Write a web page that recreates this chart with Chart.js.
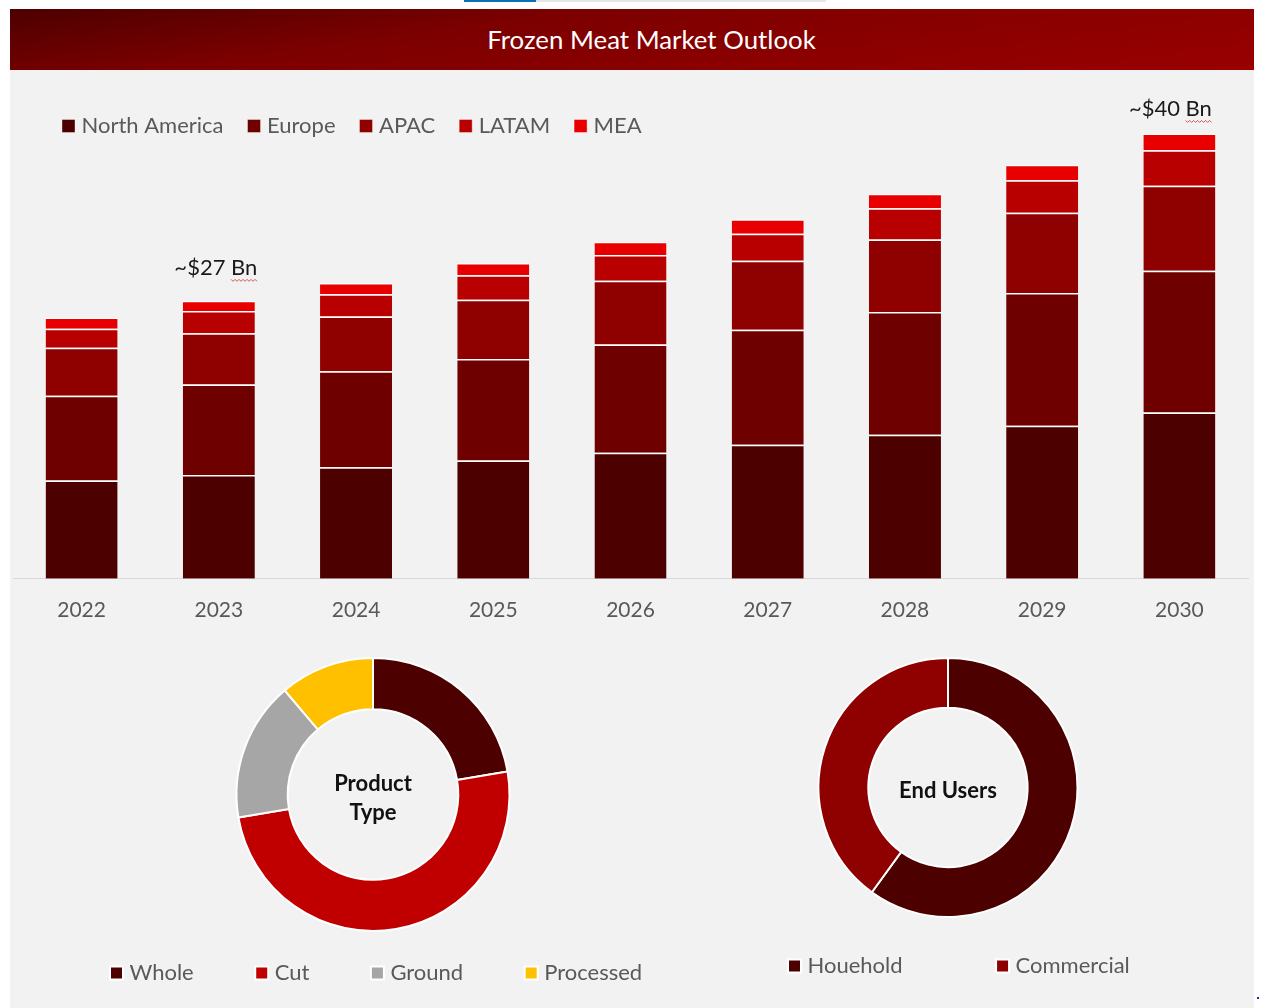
<!DOCTYPE html>
<html>
<head>
<meta charset="utf-8">
<title>Frozen Meat Market Outlook</title>
<script src="https://cdn.jsdelivr.net/npm/chart.js@4"></script>
<style>
  html, body { margin: 0; padding: 0; background: #fff; }
  body { width: 1261px; height: 1008px; position: relative; overflow: hidden; font-family: Lato, sans-serif; }
  #strip-a { position: absolute; left: 464px; top: 0; width: 72px; height: 2px; background: #0b6fb8; }
  #strip-b { position: absolute; left: 536px; top: 0; width: 290px; height: 2px; background: #e6e6e6; }
  #panel { position: absolute; left: 10px; top: 70px; width: 1244px; height: 938px; background: #f2f2f2; }
  #header {
    position: absolute; left: 10px; top: 9px; width: 1244px; height: 61px; line-height: 61px;
    background: linear-gradient(172deg, #4d0000 0%, #7c0000 35%, #8a0000 65%, #9a0000 100%);
    color: #fff; font-size: 25.8px; text-align: center; text-indent: 39px;
  }
  #dot { position: absolute; left: 1257px; top: 997px; width: 2px; height: 2px; background: #2222cc; }
  canvas { position: absolute; display: block; }
  #bars { left: 10px; top: 72px; }
  #product { left: 0; top: 640px; }
  #users { left: 635px; top: 640px; }
</style>
</head>
<body>
<div id="strip-a"></div>
<div id="strip-b"></div>
<div id="panel"></div>
<div id="header">Frozen Meat Market Outlook</div>
<canvas id="bars" width="1244" height="570"></canvas>
<canvas id="product" width="746" height="360"></canvas>
<canvas id="users" width="626" height="360"></canvas>
<div id="dot"></div>
<script>
const years = ['2022', '2023', '2024', '2025', '2026', '2027', '2028', '2029', '2030'];
const northAmerica = [8.8, 9.3, 10.0, 10.6, 11.3, 12.0, 12.9, 13.7, 14.9];
const europe = [7.6, 8.1, 8.6, 9.1, 9.7, 10.3, 11.0, 11.9, 12.7];
const apac = [4.3, 4.6, 4.9, 5.3, 5.7, 6.2, 6.5, 7.2, 7.6];
const latam = [1.7, 2.0, 2.0, 2.2, 2.3, 2.4, 2.8, 2.9, 3.2];
const mea = [1.0, 0.9, 1.0, 1.1, 1.2, 1.3, 1.3, 1.4, 1.5];
const barNotes = [null, '~$27 Bn', null, null, null, null, null, null, '~$40 Bn'];

const productLabels = ['Whole', 'Cut', 'Ground', 'Processed'];
const productValues = [22.3, 50, 16.5, 11.2];
const userLabels = ['Houehold', 'Commercial'];
const userValues = [60, 40];

const FONT = 'Lato';
const TEXT_GREY = '#595959';

// legend lives in the chart area (no layout room) but lays out as a row,
// then gets drawn at a fixed spot
const legendSpot = {
  id: 'legendSpot',
  beforeLayout(chart) {
    chart.legend.isHorizontal = () => true;
  },
  beforeDraw(chart, args, opts) {
    const legend = chart.legend;
    legend.left = opts.left;
    legend.top = opts.top;
    legend.right = chart.width;
    legend.bottom = chart.height;
  }
};

// "~$xx Bn" notes with the red squiggle under Bn
const barNotesPlugin = {
  id: 'barNotes',
  afterDatasetsDraw(chart, args, opts) {
    const ctx = chart.ctx;
    const xs = chart.scales.x;
    const ys = chart.scales.y;
    ctx.save();
    ctx.font = '22px ' + FONT;
    ctx.fillStyle = '#1a1a1a';
    ctx.textAlign = 'center';
    ctx.textBaseline = 'middle';
    barNotes.forEach((note, i) => {
      if (!note) return;
      let total = 0;
      chart.data.datasets.forEach(d => { total += d.data[i]; });
      const x = xs.getPixelForValue(i) + opts.dx[i];
      const y = ys.getPixelForValue(total) - opts.dy[i];
      ctx.fillText(note, x, y);
      const w = ctx.measureText(note).width;
      const bn = ctx.measureText('Bn').width;
      ctx.strokeStyle = '#d9534f';
      ctx.lineWidth = 1;
      ctx.beginPath();
      const right = x + w / 2;
      for (let p = 0; p <= bn; p += 2) {
        const sx = right - bn + p;
        const sy = y + 11 + (p % 4 === 0 ? 0 : 2);
        if (p === 0) ctx.moveTo(sx, sy); else ctx.lineTo(sx, sy);
      }
      ctx.stroke();
    });
    ctx.restore();
  }
};

const centerText = {
  id: 'centerText',
  afterDraw(chart, args, opts) {
    const ctx = chart.ctx;
    const arc = chart.getDatasetMeta(0).data[0];
    ctx.save();
    ctx.font = 'bold 22px ' + FONT;
    ctx.fillStyle = '#111';
    ctx.textAlign = 'center';
    ctx.textBaseline = 'middle';
    const lh = 29;
    const start = arc.y - (opts.lines.length - 1) * lh / 2 + opts.dy;
    opts.lines.forEach((line, i) => ctx.fillText(line, arc.x, start + i * lh));
    ctx.restore();
  }
};

function legendOptions(padding) {
  return {
    position: 'chartArea',
    align: 'start',
    labels: {
      color: TEXT_GREY,
      font: { family: FONT, size: 22 },
      usePointStyle: true,
      pointStyle: 'rect',
      boxWidth: 4,
      boxHeight: 13,
      padding: padding
    }
  };
}

function makeSeries(label, data, color) {
  return {
    label: label,
    data: data,
    backgroundColor: color,
    borderColor: '#ffffff',
    borderWidth: { top: 1.5 },
    borderSkipped: false,
    categoryPercentage: 1,
    barPercentage: 0.525
  };
}

new Chart(document.getElementById('bars'), {
  type: 'bar',
  data: {
    labels: years,
    datasets: [
      makeSeries('North America', northAmerica, '#4d0000'),
      makeSeries('Europe', europe, '#6e0000'),
      makeSeries('APAC', apac, '#8f0000'),
      makeSeries('LATAM', latam, '#b80000'),
      makeSeries('MEA', mea, '#e80000')
    ]
  },
  options: {
    responsive: false,
    animation: false,
    layout: { padding: { left: 3, right: 6, top: 0, bottom: 0 } },
    scales: {
      x: {
        stacked: true,
        grid: { display: false, drawTicks: false },
        border: { color: '#d9d9d9', width: 1 },
        ticks: { color: TEXT_GREY, font: { family: FONT, size: 21 }, padding: 19, maxRotation: 0 }
      },
      y: { stacked: true, display: false, min: 0, max: 45.4 }
    },
    plugins: {
      legend: legendOptions(28.5),
      legendSpot: { left: 28, top: 14.5 },
      barNotes: { dx: { 1: -3, 8: -9 }, dy: { 1: 32.5, 8: 24 } },
      tooltip: { enabled: false }
    }
  },
  plugins: [legendSpot, barNotesPlugin]
});

new Chart(document.getElementById('product'), {
  type: 'doughnut',
  data: {
    labels: productLabels,
    datasets: [{
      data: productValues,
      backgroundColor: ['#4d0000', '#c00000', '#a6a6a6', '#ffc000'],
      borderColor: '#ffffff',
      borderWidth: 2
    }]
  },
  options: {
    responsive: false,
    animation: false,
    cutout: '62.5%',
    layout: { padding: { top: 17, bottom: 68 } },
    plugins: {
      legend: legendOptions(66),
      legendSpot: { left: 48.5, top: 256 },
      centerText: { lines: ['Product', 'Type'], dy: 4 },
      tooltip: { enabled: false }
    }
  },
  plugins: [legendSpot, centerText]
});

new Chart(document.getElementById('users'), {
  type: 'doughnut',
  data: {
    labels: userLabels,
    datasets: [{
      data: userValues,
      backgroundColor: ['#4d0000', '#8f0000'],
      borderColor: '#ffffff',
      borderWidth: 2
    }]
  },
  options: {
    responsive: false,
    animation: false,
    cutout: '61.5%',
    layout: { padding: { top: 17, bottom: 82 } },
    plugins: {
      legend: legendOptions(98),
      legendSpot: { left: 59.5, top: 217 },
      centerText: { lines: ['End Users'], dy: 3 },
      tooltip: { enabled: false }
    }
  },
  plugins: [legendSpot, centerText]
});
</script>
</body>
</html>
